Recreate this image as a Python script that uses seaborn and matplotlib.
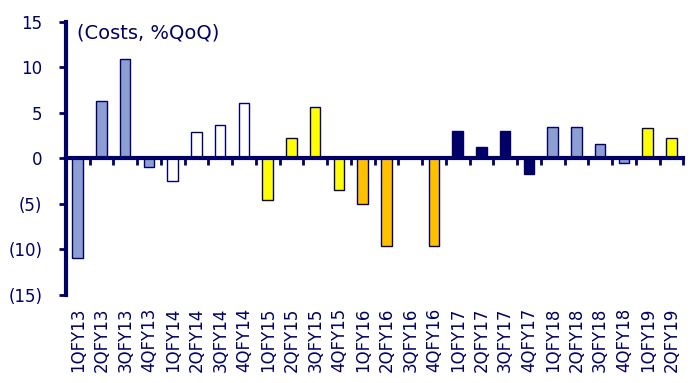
import matplotlib
matplotlib.use("Agg")
import matplotlib.pyplot as plt
import seaborn as sns
import pandas as pd

quarters = ["1QFY13", "2QFY13", "3QFY13", "4QFY13",
            "1QFY14", "2QFY14", "3QFY14", "4QFY14",
            "1QFY15", "2QFY15", "3QFY15", "4QFY15",
            "1QFY16", "2QFY16", "3QFY16", "4QFY16",
            "1QFY17", "2QFY17", "3QFY17", "4QFY17",
            "1QFY18", "2QFY18", "3QFY18", "4QFY18",
            "1QFY19", "2QFY19"]
costs_qoq = [-11.0, 6.3, 10.9, -1.0,
             -2.5, 2.9, 3.7, 6.1,
             -4.6, 2.2, 5.6, -3.5,
             -5.0, -9.6, 0.2, -9.6,
             3.0, 1.3, 3.0, -1.7,
             3.5, 3.5, 1.6, -0.5,
             3.3, 2.2]
y_ticks = [15, 10, 5, 0, -5, -10, -15]
y_tick_labels = ["15", "10", "5", "0", "(5)", "(10)", "(15)"]

NAVY = "#000066"
year_colors = {"FY13": "#8C9ED2", "FY14": "#FFFFFF", "FY15": "#FFFF00",
               "FY16": "#FFC000", "FY17": "#000066", "FY18": "#8C9ED2",
               "FY19": "#FFFF00"}

df = pd.DataFrame({"quarter": quarters, "value": costs_qoq})
palette = {q: year_colors[q[-4:]] for q in quarters}

plt.rcParams["font.family"] = ["DejaVu Sans"]
fig = plt.figure(figsize=(6.93, 3.83), dpi=100)
ax = fig.add_axes([0.095, 0.230, 0.891, 0.713])

sns.barplot(data=df, x="quarter", y="value", hue="quarter", palette=palette,
            width=0.44, edgecolor=NAVY, linewidth=1.0, legend=False, ax=ax,
            saturation=1)

ax.set_xlim(-0.5, len(quarters) - 0.5)
ax.set_ylim(-15, 15)
ax.set_yticks(y_ticks)
ax.set_yticklabels(y_tick_labels)
ax.set_xlabel("")
ax.set_ylabel("")

for s in ["top", "right"]:
    ax.spines[s].set_visible(False)
ax.spines["left"].set_color(NAVY)
ax.spines["left"].set_linewidth(3)
ax.spines["bottom"].set_position(("data", 0))
ax.spines["bottom"].set_color(NAVY)
ax.spines["bottom"].set_linewidth(3)
ax.spines["bottom"].set_zorder(1)

# tick marks on the zero line sit between categories; labels go below the plot
ax.set_xticks([i + 0.5 for i in range(len(quarters))])
ax.set_xticklabels([])
ax.tick_params(axis="x", direction="out", length=5, width=2, color=NAVY)
ax.tick_params(axis="y", direction="out", length=5, width=2, color=NAVY,
               labelcolor=NAVY, labelsize=12, pad=12)

sec = ax.secondary_xaxis(0.0)
sec.set_xticks(range(len(quarters)))
sec.set_xticklabels(quarters, rotation=90, color=NAVY, fontsize=12)
sec.tick_params(length=0, pad=9)
sec.spines["bottom"].set_visible(False)

ax.text(0.018, 0.995, "(Costs, %QoQ)", transform=ax.transAxes, ha="left",
        va="top", fontsize=14, color=NAVY)

fig.savefig("out.png", dpi=100)
